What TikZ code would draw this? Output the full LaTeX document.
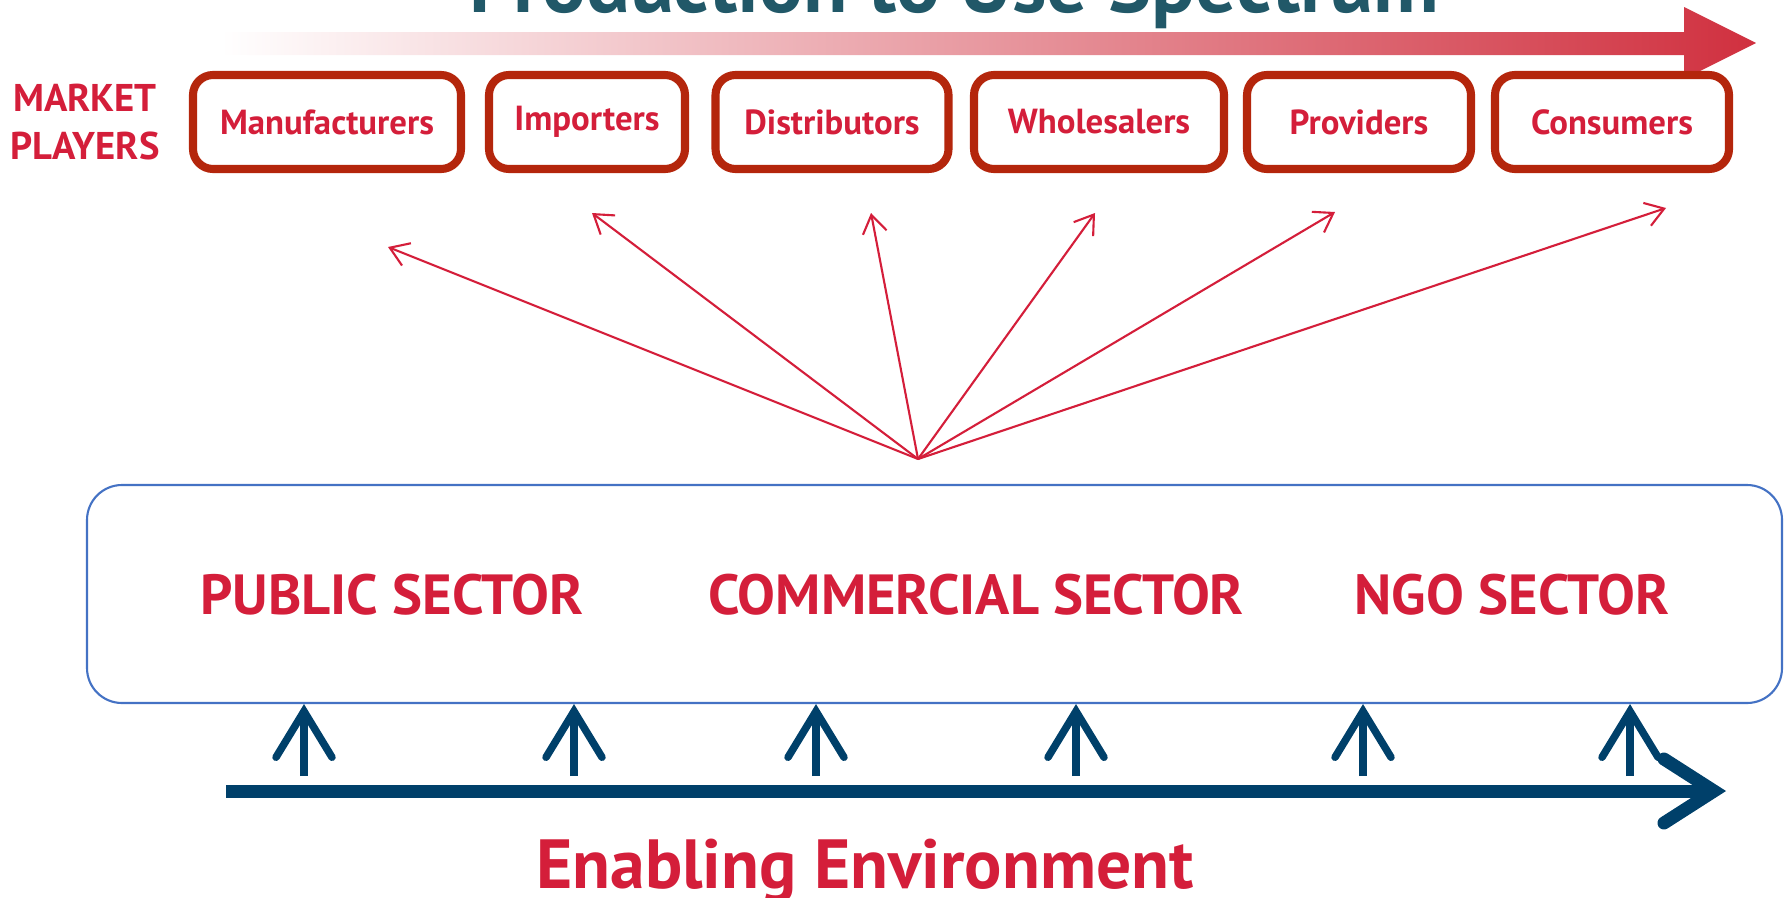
\documentclass[tikz,border=0pt]{standalone}
\usepackage{fontspec}
\setmainfont{PT Sans}
\usepackage{xcolor}
\usetikzlibrary{arrows.meta,positioning,shapes}

\definecolor{mred}{HTML}{D41E3A}
\definecolor{boxred}{HTML}{B4260C}
\definecolor{arrowred}{HTML}{D0303F}
\definecolor{sectblue}{HTML}{4472C4}
\definecolor{envblue}{HTML}{00406A}
\definecolor{titleteal}{HTML}{215868}

\tikzset{
  player/.style={draw=boxred, line width=2.3pt, rounded corners=2mm, fill=white, minimum height=9.4mm, inner sep=0pt, text=mred, font=\fontsize{9.9}{12}\selectfont\bfseries},
  sectbox/.style={draw=sectblue, line width=0.6pt, rounded corners=3.5mm, fill=white, minimum width=169.5mm, minimum height=21.8mm},
  sectlabel/.style={text=mred, font=\fontsize{16.1}{19}\selectfont\bfseries},
  fanarrow/.style={draw=mred, line width=0.6pt, -{Straight Barb[length=1.8mm,width=2.4mm]}},
  liftarrow/.style={draw=envblue, line width=0.75mm, -{Straight Barb[length=4.6mm,width=5.6mm,line cap=round]}},
  envarrow/.style={draw=envblue, line width=1.3mm, -{Straight Barb[length=5mm,width=6.4mm,line cap=round]}}
}

\begin{document}
\begin{tikzpicture}[x=0.1mm,y=-0.1mm]
    \clip (0,0) rectangle (1789,897);
    % title, cut off at the top edge
    \node[anchor=base, text=titleteal, font=\fontsize{23.2}{27}\selectfont\bfseries] (title) at (954,13) {Production to Use Spectrum};
    \shade[left color=white, right color=arrowred] (221,32) -- (1684,32) -- (1684,7) -- (1756,43) -- (1684,79) -- (1684,55) -- (221,55) -- cycle;
    \node[align=center, text=mred, font=\fontsize{11}{13.5}\selectfont\bfseries] (market) at (85,122) {MARKET\\PLAYERS};
    \foreach \x/\w/\name in {327/26.8/Manufacturers,587/19.6/Importers,832/23.3/Distributors,1099/25/Wholesalers,1359/22.4/Providers,1612/23.4/Consumers}{\node[player, minimum width=\w mm] (\name) at (\x,122) {\name};}
    % fan of arrows up to the market players
    \coordinate (hub) at (918,459);
    \foreach \x/\y [count=\i] in {388/247,592/213,871/213,1095/213,1335/212,1666/208}{\coordinate (tip\i) at (\x,\y); \draw[fanarrow] (hub) -- (tip\i);}
    \node[sectbox] (sectors) at (934.5,594) {};
    \foreach \x/\name [count=\i] in {392/PUBLIC SECTOR,976/COMMERCIAL SECTOR,1512/NGO SECTOR}{\node[sectlabel] (sec\i) at (\x,595) {\name};}
    % enabling environment
    \foreach \x [count=\i] in {304,574,816,1076,1363,1630}{\coordinate (foot\i) at (\x,776); \draw[liftarrow] (foot\i) -- (foot\i |- sectors.south);}
    \coordinate (envstart) at (226,791);
    \coordinate (envend) at (1726,791);
    \draw[envarrow] (envstart) -- (envend);
    \node[anchor=base, text=mred, font=\fontsize{19.8}{23}\selectfont\bfseries] (env) at (865,888) {Enabling Environment};
\end{tikzpicture}
\end{document}
